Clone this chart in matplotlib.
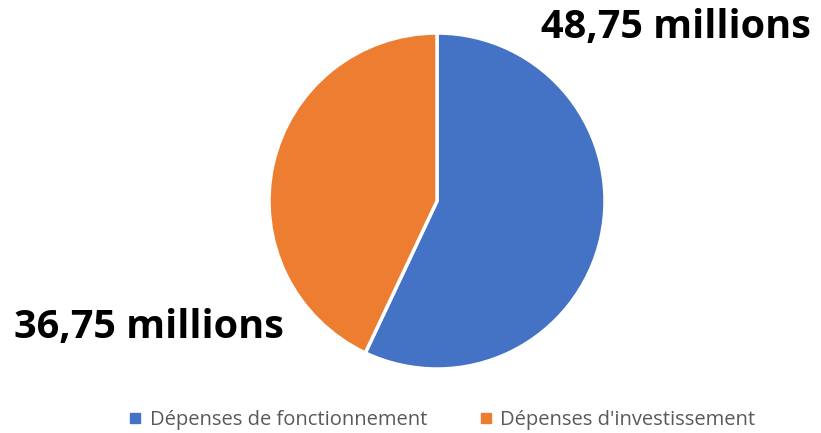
import matplotlib.pyplot as plt
from matplotlib.lines import Line2D

# Répartition des dépenses (en millions)
categories = ["Dépenses de fonctionnement", "Dépenses d'investissement"]
montants = [48.75, 36.75]
etiquettes = ["48,75 millions", "36,75 millions"]
couleurs = ["#4472C4", "#ED7D31"]

W, H = 821, 433
fig = plt.figure(figsize=(W / 100, H / 100), dpi=100)

# zone carrée du camembert (centre ~ (437, 201) px, rayon 168 px)
cx, cy, r = 437, 201, 168
ax = fig.add_axes([(cx - r) / W, (H - cy - r) / H, 2 * r / W, 2 * r / H])
ax.pie(montants, colors=couleurs, startangle=90, counterclock=False,
       wedgeprops=dict(edgecolor='white', linewidth=2.5))
ax.set_xlim(-1, 1)
ax.set_ylim(-1, 1)

# étiquettes de valeur en gras
police = ['Open Sans', 'DejaVu Sans']
fig.text(676 / W, 1 - 38 / H, etiquettes[0], fontsize=28.5, fontweight='bold',
         family=police, ha='center', va='baseline', color='black')
fig.text(149 / W, 1 - 338 / H, etiquettes[1], fontsize=28.5, fontweight='bold',
         family=police, ha='center', va='baseline', color='black')

handles = [Line2D([], [], marker='s', linestyle='none', markersize=7.5,
                  markerfacecolor=c, markeredgecolor=c) for c in couleurs]
leg = fig.legend(handles, categories, loc='center', bbox_to_anchor=(442 / W, 1 - 420 / H),
                 ncol=2, frameon=False, handlelength=0.7, handletextpad=0.35,
                 columnspacing=2.6, prop=dict(family=police, size=14.5))
for t in leg.get_texts():
    t.set_color('#595959')

fig.savefig('out.png', dpi=100)
